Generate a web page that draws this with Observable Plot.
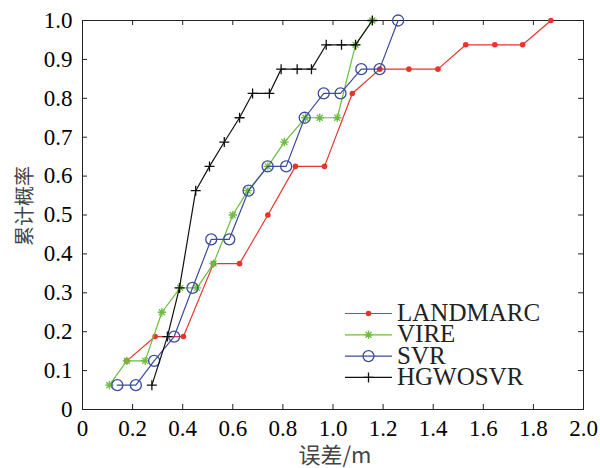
<!DOCTYPE html>
<html><head><meta charset="utf-8">
<script src="https://cdn.jsdelivr.net/npm/d3@7"></script>
<script src="https://cdn.jsdelivr.net/npm/@observablehq/plot@0.6"></script>
<style>body{margin:0;background:#fff} #chart{position:relative;width:600px;height:468px}</style>
</head><body><div id="chart"></div><script>
// ---- data ----
const seriesNames = ["LANDMARC", "VIRE", "SVR", "HGWOSVR"];
const landmarcX = [0.177, 0.29, 0.403, 0.523, 0.627, 0.74, 0.85, 0.966, 1.077, 1.187, 1.303, 1.419, 1.53, 1.646, 1.757, 1.87];
const landmarcY = [0.125, 0.1875, 0.1875, 0.375, 0.375, 0.5, 0.625, 0.625, 0.8125, 0.875, 0.875, 0.875, 0.9375, 0.9375, 0.9375, 1.0];
const vireX = [0.107, 0.177, 0.25, 0.317, 0.39, 0.457, 0.523, 0.6, 0.66, 0.74, 0.806, 0.89, 0.947, 1.017, 1.09, 1.157];
const vireY = [0.0625, 0.125, 0.125, 0.25, 0.3125, 0.3125, 0.375, 0.5, 0.5625, 0.625, 0.6875, 0.75, 0.75, 0.75, 0.9375, 1.0];
const svrX = [0.139, 0.213, 0.286, 0.366, 0.439, 0.514, 0.586, 0.663, 0.739, 0.813, 0.887, 0.963, 1.03, 1.113, 1.186, 1.26];
const svrY = [0.0625, 0.0625, 0.125, 0.1875, 0.3125, 0.4375, 0.4375, 0.5625, 0.625, 0.625, 0.75, 0.8125, 0.8125, 0.875, 0.875, 1.0];
const hgwoX = [0.277, 0.339, 0.387, 0.452, 0.507, 0.566, 0.627, 0.679, 0.746, 0.793, 0.857, 0.914, 0.973, 1.034, 1.09, 1.157];
const hgwoY = [0.0625, 0.1875, 0.3125, 0.5625, 0.625, 0.6875, 0.75, 0.8125, 0.8125, 0.875, 0.875, 0.875, 0.9375, 0.9375, 0.9375, 1.0];
const xTicks = [0, 0.2, 0.4, 0.6, 0.8, 1.0, 1.2, 1.4, 1.6, 1.8, 2.0];
const xTickLabels = ["0", "0.2", "0.4", "0.6", "0.8", "1.0", "1.2", "1.4", "1.6", "1.8", "2.0"];
const yTicks = [0, 0.1, 0.2, 0.3, 0.4, 0.5, 0.6, 0.7, 0.8, 0.9, 1.0];
const yTickLabels = ["0", "0.1", "0.2", "0.3", "0.4", "0.5", "0.6", "0.7", "0.8", "0.9", "1.0"];
const xLabel = "误差/m";
const yLabel = "累计概率";

// ---- styles ----
const colors = ["#e8342c", "#6cbd3f", "#3b4b9c", "#111111"];
const asterisk = {draw(ctx, size) {
  const r = Math.sqrt(size / Math.PI), d = r * Math.SQRT1_2;
  ctx.moveTo(-r, 0); ctx.lineTo(r, 0); ctx.moveTo(0, -r); ctx.lineTo(0, r);
  ctx.moveTo(-d, -d); ctx.lineTo(d, d); ctx.moveTo(-d, d); ctx.lineTo(d, -d);
}};
const plus = {draw(ctx, size) {
  const r = Math.sqrt(size / Math.PI);
  ctx.moveTo(-r, 0); ctx.lineTo(r, 0); ctx.moveTo(0, -r); ctx.lineTo(0, r);
}};
const circ = {draw(ctx, size) {
  const r = Math.sqrt(size / Math.PI);
  ctx.moveTo(r, 0); ctx.arc(0, 0, r, 0, 2 * Math.PI);
}};
const markers = [
  {symbol: "circle", r: 2.8, fill: colors[0], stroke: "none"},
  {symbol: asterisk, r: 4.2, fill: "none", stroke: colors[1]},
  {symbol: circ, r: 5.5, fill: "none", stroke: colors[2]},
  {symbol: plus, r: 5, fill: "none", stroke: colors[3]}
];

const xs = [landmarcX, vireX, svrX, hgwoX];
const ys = [landmarcY, vireY, svrY, hgwoY];
const tables = xs.map((X, k) => X.map((x, i) => ({series: seriesNames[k], x, y: ys[k][i]})));

const W = 600, H = 468, mL = 82, mR = 17, mT = 20, mB = 59;
const pw = W - mL - mR, ph = H - mT - mB, tl = 5;
const serif = "'Liberation Serif', 'Times New Roman', serif";
const cjk = "'Noto Sans CJK SC', sans-serif";

const marks = [
  Plot.frame({stroke: "#222", strokeWidth: 1}),
  Plot.tickX(xTicks, {x: d => d, insetTop: ph - tl, stroke: "#222"}),
  Plot.tickX(xTicks, {x: d => d, insetBottom: ph - tl, stroke: "#222"}),
  Plot.tickY(yTicks, {y: d => d, insetRight: pw - tl, stroke: "#222"}),
  Plot.tickY(yTicks, {y: d => d, insetLeft: pw - tl, stroke: "#222"}),
  Plot.axisX(xTicks, {tickSize: 0, tickPadding: 10, tickFormat: d => xTickLabels[xTicks.indexOf(d)], label: null, fill: "#000", fontSize: 23, fontFamily: serif}),
  Plot.axisY(yTicks, {tickSize: 0, tickPadding: 10, tickFormat: d => yTickLabels[yTicks.indexOf(d)], label: null, fill: "#000", fontSize: 23, fontFamily: serif})
];
tables.forEach((t, k) => {
  marks.push(Plot.line(t, {x: "x", y: "y", stroke: colors[k], strokeWidth: 1.2}));
  const m = markers[k];
  marks.push(Plot.dot(t, {x: "x", y: "y", r: m.r, symbol: m.symbol, fill: m.fill, stroke: m.stroke, strokeWidth: 1.3}));
});

const svg = Plot.plot({
  width: W, height: H, marginLeft: mL, marginRight: mR, marginTop: mT, marginBottom: mB,
  x: {domain: [0, 2], axis: null},
  y: {domain: [0, 1], axis: null},
  style: {fontFamily: serif, fontSize: "23px", background: "#fff", overflow: "visible"},
  marks
});
document.getElementById("chart").appendChild(svg);

const root = d3.select(svg);
// axis titles
root.append("text").attr("x", 335).attr("y", 463).attr("text-anchor", "middle")
  .attr("font-family", cjk).attr("font-size", 22).attr("fill", "#444").text(xLabel);
root.append("text").attr("transform", "translate(23,206) rotate(-90)").attr("text-anchor", "middle")
  .attr("dominant-baseline", "central")
  .attr("font-family", cjk).attr("font-size", 20).attr("fill", "#444").text(yLabel);

// ---- legend ----
const lg = root.append("g").attr("class", "legend");
seriesNames.forEach((name, k) => {
  const yy = 313.5 + k * 21.3;
  const g = lg.append("g").attr("transform", `translate(0,${yy})`);
  g.append("line").attr("x1", 345).attr("x2", 392).attr("y1", 0).attr("y2", 0)
    .attr("stroke", colors[k]).attr("stroke-width", 1.2);
  const m = markers[k];
  const sym = m.symbol === "circle" ? d3.symbolCircle : m.symbol;
  g.append("path").attr("transform", "translate(368.5,0)")
    .attr("d", d3.symbol().type(sym).size(m.r * m.r * Math.PI)())
    .attr("fill", m.fill).attr("stroke", m.stroke).attr("stroke-width", 1.3);
  g.append("text").attr("x", 397).attr("y", 7.5).attr("text-anchor", "start")
    .attr("font-family", serif).attr("font-size", 25).attr("fill", "#222")
    .text(name);
});
</script></body></html>
